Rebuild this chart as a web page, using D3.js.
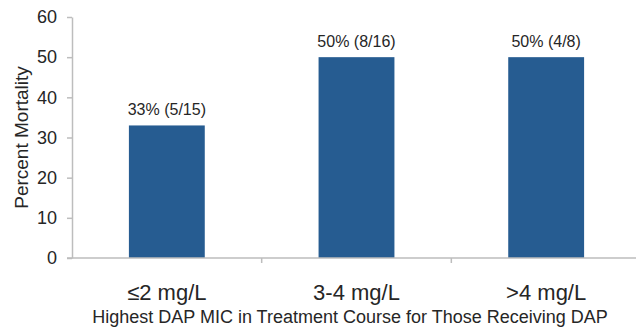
<!DOCTYPE html>
<html>
<head>
<meta charset="utf-8">
<script src="https://cdn.jsdelivr.net/npm/d3@7"></script>
<style>
  html, body { margin: 0; padding: 0; background: #fff; }
  svg { display: block; font-family: "Liberation Sans", Arial, sans-serif; }
</style>
</head>
<body>
<svg id="chart" width="636" height="328"></svg>
<script>
const categories = ["≤2 mg/L", "3-4 mg/L", ">4 mg/L"];
const mortality = [33, 50, 50];
const barLabels = ["33% (5/15)", "50% (8/16)", "50% (4/8)"];
const yTicks = [0, 10, 20, 30, 40, 50, 60];
const yTitle = "Percent Mortality";
const xTitle = "Highest DAP MIC in Treatment Course for Those Receiving DAP";

const svg = d3.select("#chart");
const plotL = 72, plotR = 641, plotT = 17, plotB = 258;
const textColor = "#262626";
const axisColor = "#BDBDBD";

const x = d3.scaleBand().domain(categories).range([plotL, plotR])
  .paddingInner(0.6).paddingOuter(0.3);
const y = d3.scaleLinear().domain([0, 60]).range([plotB, plotT]);

// Y axis
const yAxis = svg.append("g").attr("transform", `translate(${plotL},0)`)
  .call(d3.axisLeft(y).tickValues(yTicks).tickSize(5).tickPadding(10).tickSizeOuter(0));
yAxis.select(".domain").attr("stroke", axisColor).attr("stroke-width", 1.5);
yAxis.selectAll(".tick line").attr("stroke", axisColor).attr("stroke-width", 1.5);
yAxis.selectAll(".tick text").attr("fill", textColor).attr("font-size", 18)
  .attr("font-family", "Liberation Sans, Arial, sans-serif");

// Bars
svg.append("g").selectAll("rect").data(categories).join("rect")
  .attr("x", d => x(d))
  .attr("width", x.bandwidth())
  .attr("y", (d, i) => y(mortality[i]))
  .attr("height", (d, i) => y(0) - y(mortality[i]))
  .attr("fill", "#265C91");

// X axis (band boundaries as ticks)
const xg = svg.append("g").attr("transform", `translate(0,${plotB})`);
xg.append("line").attr("x1", plotL - 5).attr("x2", plotR).attr("y1", 0).attr("y2", 0)
  .attr("stroke", axisColor).attr("stroke-width", 1.5);
const step = x.step();
const boundaries = d3.range(1, categories.length).map(i => plotL + i * step);
xg.selectAll("line.tk").data(boundaries).join("line").attr("class", "tk")
  .attr("x1", d => d).attr("x2", d => d).attr("y1", 0).attr("y2", 5)
  .attr("stroke", axisColor).attr("stroke-width", 1.5);
xg.selectAll("text").data(categories).join("text")
  .attr("x", d => x(d) + x.bandwidth() / 2)
  .attr("y", 42)
  .attr("text-anchor", "middle")
  .attr("font-size", 22)
  .attr("fill", textColor)
  .text(d => d);

// Bar labels
svg.append("g").selectAll("text").data(categories).join("text")
  .attr("x", d => x(d) + x.bandwidth() / 2)
  .attr("y", (d, i) => y(mortality[i]) - 10)
  .attr("text-anchor", "middle")
  .attr("font-size", 16)
  .attr("fill", textColor)
  .text((d, i) => barLabels[i]);

// Axis titles
svg.append("text")
  .attr("transform", `translate(28,${(plotT + plotB) / 2}) rotate(-90)`)
  .attr("text-anchor", "middle")
  .attr("font-size", 19)
  .attr("fill", textColor)
  .text(yTitle);

svg.append("text")
  .attr("x", 350)
  .attr("y", 323)
  .attr("text-anchor", "middle")
  .attr("font-size", 18)
  .attr("fill", textColor)
  .text(xTitle);
</script>
</body>
</html>
